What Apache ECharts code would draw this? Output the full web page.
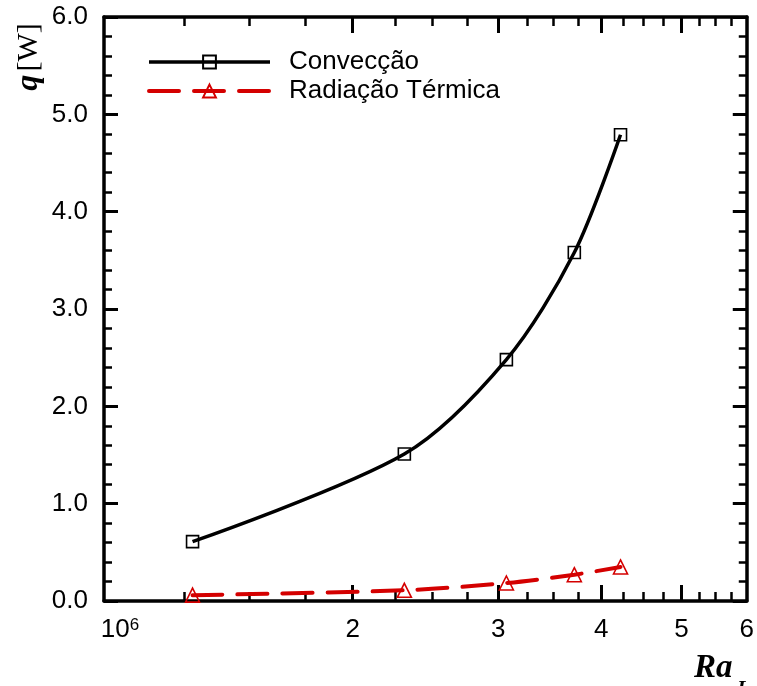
<!DOCTYPE html>
<html>
<head>
<meta charset="utf-8">
<script src="https://cdn.jsdelivr.net/npm/echarts@6/dist/echarts.min.js"></script>
<style>
html,body{margin:0;padding:0;background:#fff;}
#chart{width:757px;height:686px;}
</style>
</head>
<body>
<div id="chart"></div>
<script>
// ---- data ----
const raL = [1.28e6, 2.31e6, 3.07e6, 3.71e6, 4.22e6];
const conveccao = [0.61, 1.51, 2.48, 3.58, 4.79];
const radiacao = [0.06, 0.11, 0.185, 0.27, 0.35];
const seriesNames = ['Convecção', 'Radiação Térmica'];
const xMajorTicks = [1e6, 2e6, 3e6, 4e6, 5e6, 6e6];
const xMinorTicks = [1.25e6, 1.5e6, 1.75e6, 2.25e6, 2.5e6, 2.75e6, 3.25e6, 3.5e6, 3.75e6,
                     4.25e6, 4.5e6, 4.75e6, 5.25e6, 5.5e6, 5.75e6];
const xMin = 1e6, xMax = 6e6;
const yMin = 0, yMax = 6, yStep = 1;

const SANS = '"Liberation Sans", Arial, sans-serif';
const SERIF = '"Liberation Serif", "Times New Roman", serif';
const RED = '#d40000';

function pairs(xs, ys) { return xs.map((x, i) => [x, ys[i]]); }

function xAxisDef(pos, minor, showLine, showLabel) {
  return {
    type: 'log', logBase: 10, min: xMin, max: xMax, position: pos,
    axisLine: { show: showLine, onZero: false, lineStyle: { color: '#000', width: 3.5 } },
    axisTick: { show: true, inside: true, length: minor ? 9 : 16,
      customValues: minor ? xMinorTicks : xMajorTicks.slice(1, -1),
      lineStyle: { color: '#000', width: minor ? 2.5 : 3 } },
    axisLabel: showLabel ? {
      show: true, customValues: xMajorTicks, margin: 16, color: '#000',
      fontFamily: SANS, fontSize: 26,
      formatter: function (v) {
        if (Math.abs(v - 1e6) < 1) return '{a|10}{b|6}';
        return String(Math.round(v / 1e6));
      },
      rich: {
        a: { fontFamily: SANS, fontSize: 26, color: '#000', padding: [0, 0, 0, 32] },
        b: { fontFamily: SANS, fontSize: 17, color: '#000', verticalAlign: 'top', padding: [0, 0, 9, 0] }
      }
    } : { show: false },
    splitLine: { show: false }
  };
}

function yAxisDef(pos, showLabel) {
  return {
    type: 'value', min: yMin, max: yMax, interval: yStep, position: pos,
    axisLine: { show: true, onZero: false, lineStyle: { color: '#000', width: 3.5 } },
    axisTick: { show: true, inside: true, length: 14, lineStyle: { color: '#000', width: 3 } },
    minorTick: { show: true, splitNumber: 5, length: 8, lineStyle: { color: '#000', width: 2.5 } },
    axisLabel: showLabel ? {
      show: true, margin: 16, color: '#000', fontFamily: SANS, fontSize: 26,
      formatter: v => v.toFixed(1)
    } : { show: false },
    splitLine: { show: false }
  };
}

const blackLine = { color: '#000', width: 3.5 };
const redLine = { color: RED, width: 4, type: [30, 15], cap: 'round' };

const chart = echarts.init(document.getElementById('chart'), null, { renderer: 'canvas' });
chart.setOption({
  backgroundColor: '#fff',
  animation: false,
  grid: { left: 104, right: 10, top: 17, bottom: 85, containLabel: false },
  xAxis: [
    xAxisDef('bottom', false, true, true),
    xAxisDef('bottom', true, false, false),
    xAxisDef('top', false, true, false),
    xAxisDef('top', true, false, false)
  ],
  yAxis: [
    yAxisDef('left', true),
    yAxisDef('right', false)
  ],
  legend: {
    orient: 'vertical', left: 142, top: 44,
    itemWidth: 121, itemHeight: 16, itemGap: 3,
    textStyle: { fontFamily: SANS, fontSize: 26, color: '#000', padding: [0, 0, 0, 14] },
    data: [
      { name: seriesNames[0], lineStyle: blackLine },
      { name: seriesNames[1], lineStyle: redLine }
    ]
  },
  series: [
    {
      name: seriesNames[0], type: 'line', xAxisIndex: 0, yAxisIndex: 0,
      data: pairs(raL, conveccao), smooth: 0.3,
      symbol: 'rect', symbolSize: 12,
      lineStyle: blackLine,
      itemStyle: { color: 'rgba(255,255,255,0)', borderColor: '#000', borderWidth: 1.6 },
      z: 3
    },
    {
      name: seriesNames[1], type: 'line', xAxisIndex: 0, yAxisIndex: 0,
      data: pairs(raL, radiacao), smooth: 0.3,
      symbol: 'triangle', symbolSize: 14,
      lineStyle: redLine,
      itemStyle: { color: 'rgba(255,255,255,0)', borderColor: RED, borderWidth: 1.6 },
      z: 3
    }
  ],
  graphic: [
    {
      type: 'text', x: 29, y: 57, rotation: Math.PI / 2,
      style: {
        text: '{q|q} {w|[W]}', align: 'center', verticalAlign: 'middle',
        rich: {
          q: { fontFamily: SERIF, fontSize: 32, fontWeight: 'bold', fontStyle: 'italic', fill: '#000' },
          w: { fontFamily: SERIF, fontSize: 30, fill: '#000' }
        }
      }
    },
    {
      type: 'text', x: 694, y: 668,
      style: { text: 'Ra', align: 'left', verticalAlign: 'middle',
        fontFamily: SERIF, fontSize: 33, fontWeight: 'bold', fontStyle: 'italic', fill: '#000' }
    },
    {
      type: 'text', x: 737, y: 690,
      style: { text: 'L', align: 'left', verticalAlign: 'middle',
        fontFamily: SERIF, fontSize: 21, fontWeight: 'bold', fontStyle: 'italic', fill: '#000' }
    }
  ]
});
</script>
</body>
</html>
